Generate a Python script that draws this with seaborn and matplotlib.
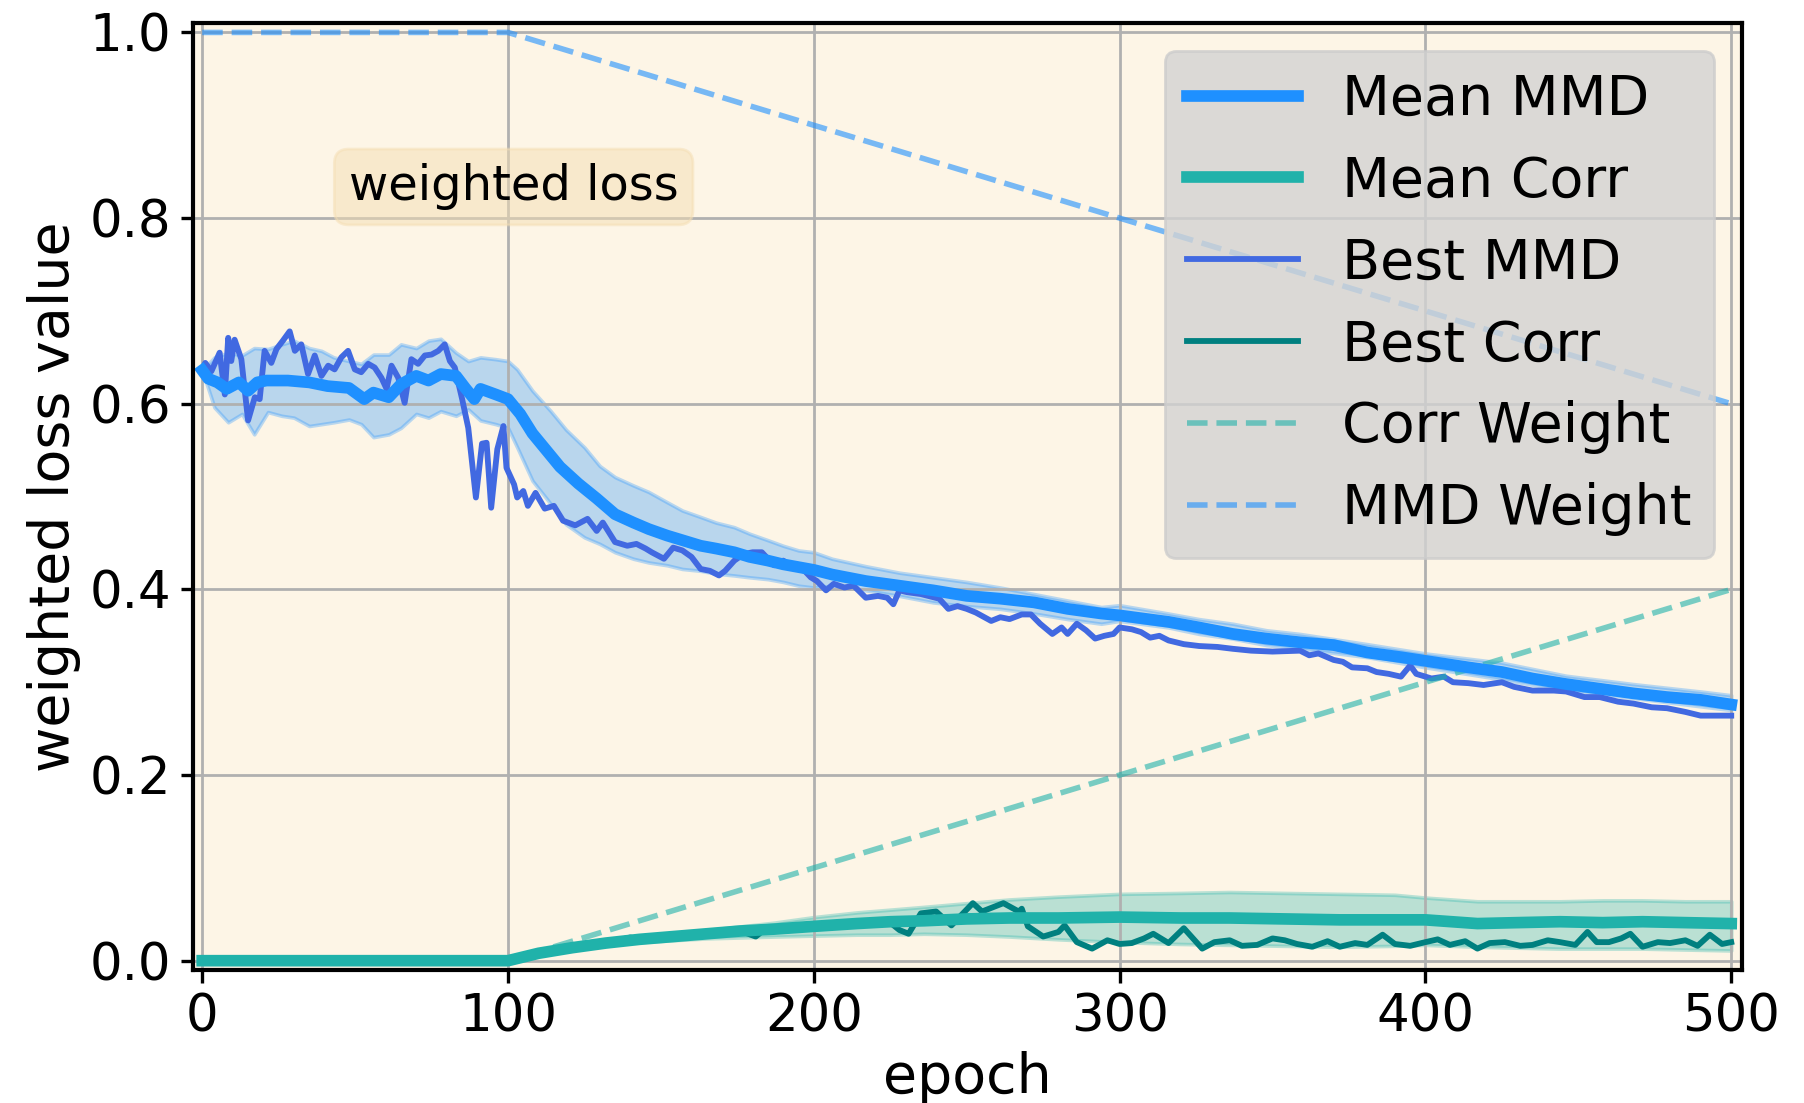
import matplotlib
matplotlib.use('Agg')
import seaborn as sns
import matplotlib.pyplot as plt

# weight schedules (corner points)
weight_epochs = [0, 100, 500]
corr_weight = [0.0, 0.0, 0.4]
mmd_weight = [1.0, 1.0, 0.6]

# mean MMD over runs
mean_mmd_epochs = [0, 2, 5, 8, 12, 15, 18, 21, 28, 35,
                   41, 48, 53, 56, 61, 65, 70, 74, 78, 83,
                   86, 89, 91, 96, 100, 104, 108, 112, 117, 123,
                   129, 135, 141, 146, 152, 157, 163, 168, 174, 179,
                   185, 190, 195, 200, 206, 217, 228, 239, 250, 261,
                   272, 283, 294, 300, 316, 326, 337, 348, 359, 370,
                   381, 392, 400, 414, 425, 435, 446, 457, 468, 479,
                   490, 500]
mean_mmd = [.636, .627, .623, .616, .623, .614, .623, .625, .625, .623,
            .619, .617, .605, .612, .607, .621, .630, .625, .632, .630,
            .617, .605, .616, .610, .605, .589, .568, .552, .532, .514,
            .498, .481, .472, .465, .458, .453, .447, .444, .440, .435,
            .431, .427, .424, .421, .416, .409, .404, .399, .393, .390,
            .386, .379, .374, .372, .365, .359, .352, .347, .343, .340,
            .332, .327, .323, .316, .311, .304, .298, .293, .288, .284,
            .281, .276]

# spread band of MMD
mmd_band_epochs = [0, 4, 8.5, 13, 17, 21.5, 26, 30, 35, 39,
                   43, 48, 52, 56, 61, 65, 70, 74, 78, 83,
                   87, 91, 96, 100, 103, 108, 114, 119, 125, 130,
                   135, 141, 146, 152, 157, 163, 168, 174, 179, 185,
                   190, 195, 200, 206, 217, 228, 239, 250, 261, 272,
                   283, 294, 300, 316, 326, 337, 348, 359, 381, 400,
                   425, 446, 468, 490, 500]
mmd_band_upper = [.636, .650, .655, .652, .660, .659, .664, .668, .660, .657,
                  .650, .646, .643, .653, .653, .664, .660, .668, .670, .655,
                  .646, .650, .648, .646, .637, .614, .592, .572, .553, .533,
                  .521, .512, .505, .494, .485, .478, .472, .467, .460, .453,
                  .447, .442, .440, .433, .425, .418, .413, .408, .402, .395,
                  .388, .381, .383, .374, .368, .363, .356, .352, .341, .331,
                  .321, .307, .298, .290, .286]
mmd_band_lower = [.636, .596, .580, .589, .567, .591, .587, .585, .576, .578,
                  .580, .583, .578, .564, .567, .574, .589, .585, .592, .587,
                  .594, .582, .578, .574, .553, .517, .492, .470, .456, .449,
                  .440, .433, .429, .426, .422, .420, .417, .415, .413, .411,
                  .408, .404, .402, .404, .399, .393, .386, .382, .379, .374,
                  .368, .363, .366, .359, .352, .347, .340, .336, .327, .316,
                  .303, .291, .283, .274, .270]

# best run MMD
best_mmd_epochs = [0, 1, 3, 5.7, 7.4, 8.5, 9.5, 10.6, 12.8, 15,
                   17.2, 18.8, 20.4, 22.6, 24.3, 26.4, 28.6, 30.3, 32.4, 34.6,
                   36.8, 39, 41.2, 43.3, 45.5, 47.7, 49.9, 52, 54.3, 56.4,
                   58.6, 60.3, 61.9, 64.1, 66.2, 68.4, 70.6, 72.8, 75, 77.2,
                   79.3, 81, 82.6, 85, 87, 89.5, 91.5, 93, 94.5, 96.5,
                   98.5, 99.5, 102, 103, 105, 106.5, 109, 112, 115, 118,
                   122, 126, 129, 131, 135, 139, 142, 145, 147, 151,
                   154, 157, 160, 163, 166, 169, 171, 174, 177, 180,
                   183, 187, 190, 193, 197, 199, 201, 204, 206.5, 210,
                   213, 217, 221, 224, 226, 228, 230.5, 235, 241, 244,
                   247, 250, 253, 258, 261, 264, 268, 271, 274, 278,
                   281, 283, 286, 289, 292, 295, 298, 300, 304, 307,
                   310, 313, 316, 321, 326, 332, 337, 343, 350, 359,
                   362, 365, 370, 373, 376, 381, 384, 388, 392, 395,
                   397, 402, 406, 409, 414, 419, 425, 429, 435, 442,
                   446, 452, 457, 463, 468, 474, 479, 485, 490, 500]
best_mmd = [.637, .644, .635, .655, .610, .671, .646, .669, .648, .582,
            .607, .605, .657, .644, .659, .668, .678, .657, .664, .632,
            .652, .630, .641, .637, .650, .657, .637, .634, .643, .639,
            .628, .616, .641, .628, .601, .648, .643, .652, .653, .657,
            .664, .646, .639, .605, .574, .499, .557, .558, .488, .551,
            .576, .531, .513, .499, .506, .490, .504, .487, .490, .474,
            .469, .476, .463, .472, .451, .447, .449, .444, .440, .433,
            .445, .442, .435, .422, .420, .415, .420, .431, .438, .440,
            .440, .426, .431, .424, .420, .413, .409, .399, .406, .402,
            .404, .391, .393, .391, .384, .399, .397, .395, .390, .379,
            .382, .379, .375, .366, .370, .368, .373, .373, .363, .352,
            .359, .352, .363, .356, .347, .350, .352, .359, .357, .354,
            .348, .350, .345, .341, .339, .338, .336, .334, .333, .334,
            .329, .331, .324, .322, .316, .315, .311, .309, .306, .318,
            .309, .304, .306, .300, .299, .297, .300, .295, .291, .291,
            .290, .284, .284, .279, .277, .273, .272, .268, .264, .264]

# mean correlation loss with spread band
corr_epochs = [0, 100, 110, 121, 132, 143, 154, 165, 176, 187,
               200, 214, 225, 236, 250, 264, 280, 300, 320, 336,
               354, 372, 390, 400, 417, 430, 444, 458, 471, 485, 500]
mean_corr = [0, 0, .008, .014, .019, .023, .026, .029, .032, .034,
             .037, .040, .042, .043, .045, .046, .046, .047, .046, .046,
             .045, .044, .044, .044, .040, .041, .042, .041, .042, .041, .040]
corr_band_upper = [0, 0, .009, .016, .021, .026, .029, .033, .037, .041,
                   .047, .052, .055, .058, .062, .066, .069, .072, .073, .074,
                   .073, .072, .071, .068, .064, .064, .064, .065, .065, .064, .064]
corr_band_lower = [0, 0, .007, .012, .017, .020, .022, .024, .025, .026,
                   .027, .028, .028, .029, .028, .026, .023, .020, .018, .017,
                   .016, .015, .016, .017, .015, .014, .013, .013, .013, .012, .011]

# best run correlation loss
best_corr_epochs = [0, 100, 110, 121, 132, 140, 143, 154, 165, 176,
                    181, 184, 190, 200, 210, 220, 225, 228, 231, 235,
                    240, 245, 252, 255, 262, 267, 268, 270, 275, 280,
                    282, 286, 291, 296, 300, 304, 308, 311, 316, 321,
                    327, 331, 336, 340, 345, 350, 354, 358, 363, 368,
                    372, 377, 381, 386, 390, 395, 400, 404, 408, 413,
                    417, 421, 426, 431, 435, 440, 444, 449, 453, 456,
                    460, 464, 467, 471, 476, 480, 485, 489, 493, 497, 500]
best_corr = [0, 0, .008, .014, .019, .025, .023, .026, .029, .032,
             .026, .034, .035, .037, .040, .041, .041, .033, .029, .051,
             .053, .038, .062, .053, .062, .053, .056, .037, .026, .031,
             .038, .020, .013, .022, .018, .019, .024, .029, .019, .035,
             .013, .020, .022, .016, .017, .024, .022, .018, .015, .021,
             .015, .019, .017, .028, .018, .016, .020, .023, .017, .021,
             .013, .019, .020, .016, .017, .022, .020, .017, .031, .020,
             .020, .024, .029, .015, .020, .019, .022, .016, .028, .018, .020]


fig, ax = plt.subplots(figsize=(9.02, 5.515), dpi=200)
fig.subplots_adjust(left=0.107, right=0.9656, bottom=0.1206, top=0.979)
ax.set_facecolor('oldlace')

ax.fill_between(mmd_band_epochs, mmd_band_lower, mmd_band_upper, color='dodgerblue', alpha=0.3, lw=1.3)
ax.fill_between(corr_epochs, corr_band_lower, corr_band_upper, color='lightseagreen', alpha=0.3, lw=1.3)

sns.lineplot(x=best_mmd_epochs, y=best_mmd, ax=ax, color='royalblue', lw=2.1, label='Best MMD')
sns.lineplot(x=best_corr_epochs, y=best_corr, ax=ax, color='teal', lw=2.1, label='Best Corr')
sns.lineplot(x=weight_epochs, y=corr_weight, ax=ax, color='lightseagreen', alpha=0.6,
             lw=2.0, linestyle='--', label='Corr Weight')
sns.lineplot(x=weight_epochs, y=mmd_weight, ax=ax, color='dodgerblue', alpha=0.6,
             lw=2.0, linestyle='--', label='MMD Weight')
sns.lineplot(x=mean_mmd_epochs, y=mean_mmd, ax=ax, color='dodgerblue', lw=4.2, label='Mean MMD')
sns.lineplot(x=corr_epochs, y=mean_corr, ax=ax, color='lightseagreen', lw=4.2, label='Mean Corr')

ax.set_xlim(-3, 503.5)
ax.set_ylim(-0.01, 1.01)
ax.set_xticks([0, 100, 200, 300, 400, 500])
ax.set_yticks([0.0, 0.2, 0.4, 0.6, 0.8, 1.0])
ax.grid(True, color='#b0b0b0', lw=1)
ax.tick_params(labelsize=18.5, length=4.5, width=1.2)
for s in ax.spines.values():
    s.set_linewidth(1.5)
    s.set_color('black')
ax.set_xlabel('epoch', fontsize=20, labelpad=3)
ax.set_ylabel('weighted loss value', fontsize=20, labelpad=3)

ax.text(0.207, 0.827, 'weighted loss', transform=ax.transAxes, fontsize=17.3,
        ha='center', va='center',
        bbox=dict(boxstyle='round', facecolor='wheat', edgecolor='wheat', alpha=0.5))

handles, labels = ax.get_legend_handles_labels()
order = ['Mean MMD', 'Mean Corr', 'Best MMD', 'Best Corr', 'Corr Weight', 'MMD Weight']
hmap = dict(zip(labels, handles))
ax.legend([hmap[k] for k in order], order, loc='upper right', fontsize=20,
          facecolor='lightgray', framealpha=0.8, labelspacing=0.5, handlelength=2.0)

fig.savefig('out.png', dpi=200)
